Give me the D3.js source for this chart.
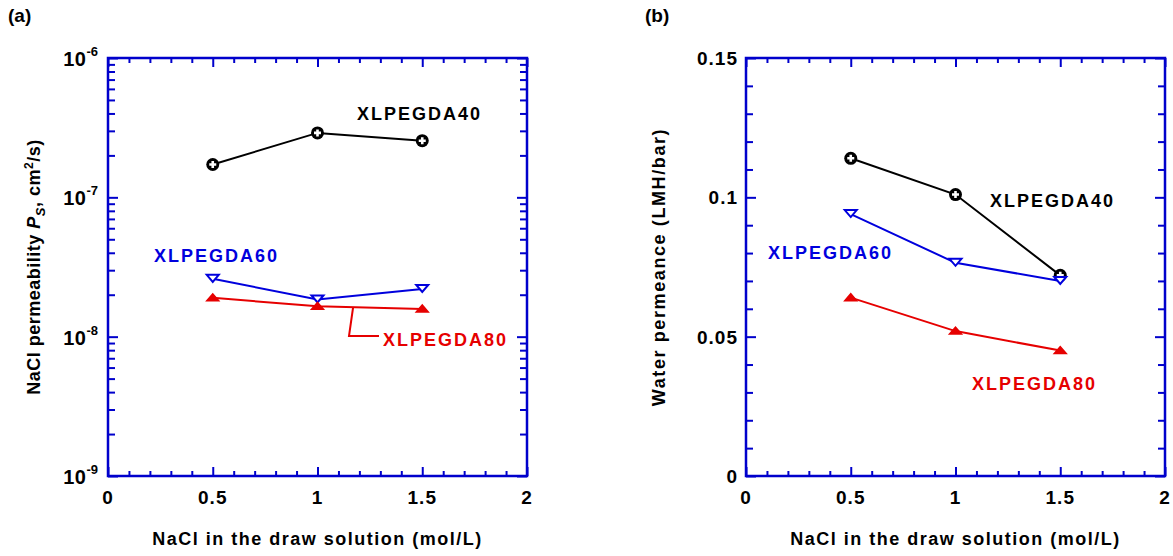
<!DOCTYPE html>
<html><head><meta charset="utf-8">
<script src="https://cdn.jsdelivr.net/npm/d3@7/dist/d3.min.js"></script>
<style>
body{margin:0;background:#fff;}
text{font-family:"Liberation Sans",Arial,sans-serif;font-weight:bold;}
</style></head>
<body>
<svg id="c" width="1173" height="556"></svg>
<script>
// ---- data ----
const concentrations = [0.5, 1.0, 1.5];
const seriesNames = ["XLPEGDA40", "XLPEGDA60", "XLPEGDA80"];
const permeability40 = [1.72e-7, 2.9e-7, 2.55e-7];
const permeability60 = [2.6e-8, 1.85e-8, 2.2e-8];
const permeability80 = [1.9e-8, 1.65e-8, 1.58e-8];
const waterPerm40 = [0.114, 0.101, 0.072];
const waterPerm60 = [0.094, 0.0765, 0.070];
const waterPerm80 = [0.064, 0.052, 0.045];
const xTicks = [0, 0.5, 1, 1.5, 2];
const xTickLabels = ["0", "0.5", "1", "1.5", "2"];
const logTicks = [1e-9, 1e-8, 1e-7, 1e-6];
const logTickExps = ["-9", "-8", "-7", "-6"];
const linTicks = [0, 0.05, 0.1, 0.15];
const linTickLabels = ["0", "0.05", "0.1", "0.15"];

const AX = "#0000cc", BLK = "#000", BLU = "#0000dd", RED = "#e60000";
const svg = d3.select("#c");

const xA = d3.scaleLinear().domain([0, 2]).range([108, 527]);
const yA = d3.scaleLog().domain([1e-9, 1e-6]).range([476, 58]);
const xB = d3.scaleLinear().domain([0, 2]).range([746, 1165]);
const yB = d3.scaleLinear().domain([0, 0.15]).range([476, 58]);

function frame(x, y, yMajor, yMinor) {
  const g = svg.append("g");
  const [x0, x1] = x.range(), [y0, y1] = y.range();
  const xMinor = d3.range(0, 2.0001, 0.1).filter(v => Math.abs(v * 2 - Math.round(v * 2)) > 1e-6);
  const mk = (axis, tr) => {
    const a = g.append("g").attr("transform", tr).call(axis);
    a.selectAll("text").remove();
    a.select(".domain").remove();
    a.selectAll("line").attr("stroke", AX).attr("stroke-width", 2);
  };
  mk(d3.axisBottom(x).tickValues(xTicks).tickSize(-9).tickFormat(""), `translate(0,${y0})`);
  mk(d3.axisBottom(x).tickValues(xMinor).tickSize(-5).tickFormat(""), `translate(0,${y0})`);
  mk(d3.axisTop(x).tickValues(xTicks).tickSize(-9).tickFormat(""), `translate(0,${y1})`);
  mk(d3.axisTop(x).tickValues(xMinor).tickSize(-5).tickFormat(""), `translate(0,${y1})`);
  mk(d3.axisLeft(y).tickValues(yMajor).tickSize(-10).tickFormat(""), `translate(${x0},0)`);
  mk(d3.axisLeft(y).tickValues(yMinor).tickSize(-7).tickFormat(""), `translate(${x0},0)`);
  mk(d3.axisRight(y).tickValues(yMajor).tickSize(-10).tickFormat(""), `translate(${x1},0)`);
  mk(d3.axisRight(y).tickValues(yMinor).tickSize(-7).tickFormat(""), `translate(${x1},0)`);
  g.append("rect").attr("x", x0).attr("y", y1).attr("width", x1 - x0).attr("height", y0 - y1)
    .attr("fill", "none").attr("stroke", AX).attr("stroke-width", 2.5);
  g.selectAll(".xl").data(xTicks).enter().append("text")
    .attr("x", d => x(d)).attr("y", 504).attr("text-anchor", "middle")
    .attr("font-size", 19).attr("letter-spacing", 1).text((d, i) => xTickLabels[i]);
  g.append("text").attr("x", (x0 + x1) / 2).attr("y", 545).attr("text-anchor", "middle")
    .attr("font-size", 18).attr("letter-spacing", 1.5).text("NaCl in the draw solution (mol/L)");
}

const logMinor = [];
[1e-9, 1e-8, 1e-7].forEach(d => { for (let k = 2; k <= 9; k++) logMinor.push(d * k); });
const linMinor = d3.range(0, 0.1501, 0.01).filter(v => Math.abs(v / 0.05 - Math.round(v / 0.05)) > 1e-6);

frame(xA, yA, logTicks, logMinor);
frame(xB, yB, linTicks, linMinor);

const la = svg.append("g");
logTicks.forEach((d, i) => {
  const t = la.append("text").attr("x", 98).attr("y", yA(d) + 8).attr("text-anchor", "end").attr("font-size", 20);
  t.append("tspan").attr("letter-spacing", 0.5).text("10");
  t.append("tspan").attr("dy", -10).attr("font-size", 13).text(logTickExps[i]);
});
linTicks.forEach((d, i) => {
  svg.append("text").attr("x", 738).attr("y", yB(d) + 7).attr("text-anchor", "end")
    .attr("font-size", 19).attr("letter-spacing", 1).text(linTickLabels[i]);
});

const ta = svg.append("text").attr("transform", "translate(40,267) rotate(-90)")
  .attr("text-anchor", "middle").attr("font-size", 18).attr("letter-spacing", 0.5);
ta.append("tspan").text("NaCl permeability ");
ta.append("tspan").attr("font-style", "italic").text("P");
ta.append("tspan").attr("font-style", "italic").attr("font-size", 13).attr("dy", 5).text("S");
ta.append("tspan").attr("dy", -5).text(", cm");
ta.append("tspan").attr("font-size", 12).attr("dy", -7).text("2");
ta.append("tspan").attr("dy", 7).text("/s)");

svg.append("text").attr("transform", "translate(665,267) rotate(-90)")
  .attr("text-anchor", "middle").attr("font-size", 18).attr("letter-spacing", 1.6)
  .text("Water permeance (LMH/bar)");

svg.append("text").attr("x", 8).attr("y", 22).attr("font-size", 19).text("(a)");
svg.append("text").attr("x", 645).attr("y", 22).attr("font-size", 19).text("(b)");

function series(x, y, vals, color, type) {
  const pts = concentrations.map((c, i) => [x(c), y(vals[i])]);
  svg.append("path").attr("d", d3.line()(pts)).attr("fill", "none")
    .attr("stroke", color).attr("stroke-width", 2);
  pts.forEach(([px, py]) => {
    if (type === "circ") {
      svg.append("circle").attr("cx", px).attr("cy", py).attr("r", 6.5).attr("fill", BLK);
      svg.append("path").attr("d", `M${px - 3.5},${py}H${px + 3.5}M${px},${py - 3.5}V${py + 3.5}`)
        .attr("stroke", "#fff").attr("stroke-width", 2.6);
    } else if (type === "down") {
      svg.append("path").attr("d", `M${px - 6},${py - 4}L${px + 6},${py - 4}L${px},${py + 3}Z`)
        .attr("fill", "#fff").attr("stroke", color).attr("stroke-width", 2);
    } else {
      svg.append("path").attr("d", `M${px - 6},${py + 3}L${px + 6},${py + 3}L${px},${py - 4}Z`)
        .attr("fill", color).attr("stroke", color).attr("stroke-width", 1.5);
    }
  });
}
series(xA, yA, permeability40, BLK, "circ");
series(xA, yA, permeability60, BLU, "down");
series(xA, yA, permeability80, RED, "up");
series(xB, yB, waterPerm40, BLK, "circ");
series(xB, yB, waterPerm60, BLU, "down");
series(xB, yB, waterPerm80, RED, "up");

function lab(x, y, txt, color) {
  svg.append("text").attr("x", x).attr("y", y).attr("font-size", 18).attr("letter-spacing", 2)
    .attr("fill", color).text(txt);
}
lab(357, 120, seriesNames[0], BLK);
lab(154, 262, seriesNames[1], BLU);
lab(383, 346, seriesNames[2], RED);
lab(990, 207, seriesNames[0], BLK);
lab(768, 259, seriesNames[1], BLU);
lab(972, 390, seriesNames[2], RED);

const lx = 1.17;
svg.append("path").attr("d", `M379,336H349L${xA(lx)},${yA(permeability80[1] + (permeability80[2] - permeability80[1]) * (lx - 1) / 0.5)}`)
  .attr("fill", "none").attr("stroke", RED).attr("stroke-width", 2);
</script>
</body></html>
